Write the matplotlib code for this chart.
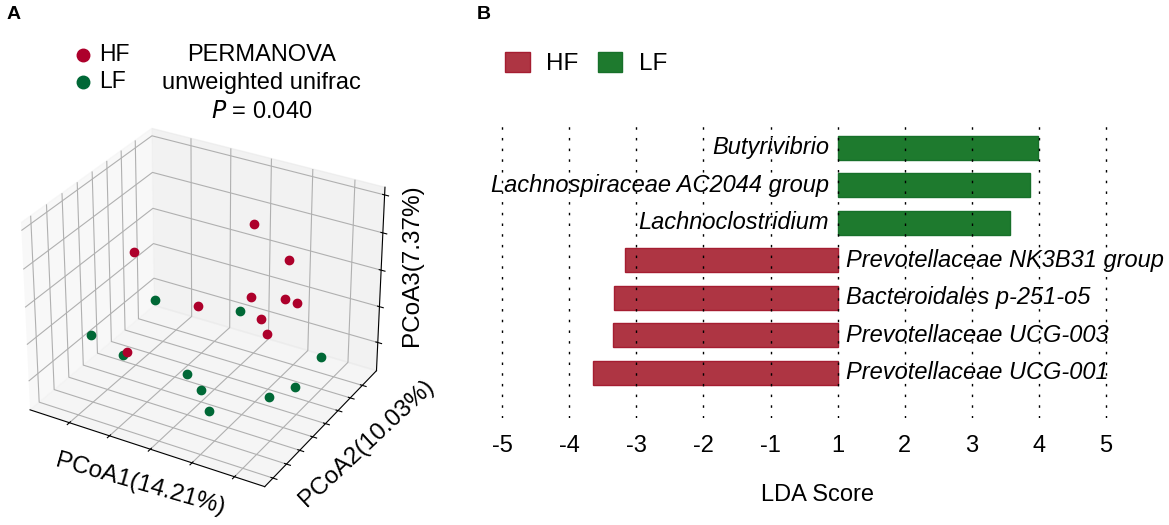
import matplotlib
matplotlib.use("Agg")
import matplotlib.pyplot as plt
import numpy as np

plt.rcParams['font.family'] = ['Liberation Sans', 'DejaVu Sans']

# panel A: PCoA coordinates
hf_pc1 = [0.069, 0.206, -0.259, 0.037, 0.159, 0.213, -0.065, 0.158, 0.146, -0.184]
hf_pc2 = [0.173, -0.004, 0.262, 0.262, 0.129, 0.040, 0.173, -0.048, 0.040, -0.004]
hf_pc3 = [0.166, 0.170, -0.033, -0.064, 0.012, 0.047, -0.093, 0.017, -0.058, -0.201]

lf_pc1 = [-0.221, 0.067, -0.243, -0.178, 0.183, -0.019, 0.031, 0.187, 0.166, 0.080]
lf_pc2 = [0.306, 0.085, -0.092, -0.048, 0.350, -0.048, -0.092, 0.129, -0.004, -0.181]
lf_pc3 = [-0.170, -0.035, -0.145, -0.194, -0.212, -0.192, -0.203, -0.217, -0.205, -0.211]

# panel B: LDA bars (value in axis units, 0 = the "1" line)
taxa = ["Butyrivibrio", "Lachnospiraceae AC2044 group", "Lachnoclostridium",
        "Prevotellaceae NK3B31 group", "Bacteroidales p-251-o5",
        "Prevotellaceae UCG-003", "Prevotellaceae UCG-001"]
lda = [2.99, 2.86, 2.57, -3.17, -3.33, -3.35, -3.65]
groups = ["LF", "LF", "LF", "HF", "HF", "HF", "HF"]
tick_pos = [-5, -4, -3, -2, -1, 0, 1, 2, 3, 4]
tick_lab = ["-5", "-4", "-3", "-2", "-1", "1", "2", "3", "4", "5"]

red_pt = "#ad002b"
green_pt = "#006836"
red_bar = "#ae3543"
red_edge = "#a51d31"
green_bar = "#1e7a2e"
green_edge = "#17702a"

fig = plt.figure(figsize=(11.69, 5.25), dpi=100)

# ---------- A ----------
ax3 = fig.add_axes([-0.0071, 0.037, 0.357, 0.764], projection='3d')
ax3.set_box_aspect((1.217, 1.092, 0.964), zoom=1.019)
ax3.scatter(hf_pc1, hf_pc2, hf_pc3, color=red_pt, s=36, depthshade=False, label="HF")
ax3.scatter(lf_pc1, lf_pc2, lf_pc3, color=green_pt, s=36, depthshade=False, label="LF")
ax3.set_xlim(-0.3, 0.27)
ax3.set_ylim(-0.36, 0.52)
ax3.set_zlim(-0.28, 0.22)
ax3.set_xticks([-0.2, -0.1, 0.0, 0.1, 0.2])
ax3.set_yticks([-0.3, -0.2, -0.1, 0.0, 0.1, 0.2, 0.3, 0.4])
ax3.set_zticks([-0.2, -0.1, 0.0, 0.1, 0.2])
ax3.set_xticklabels([])
ax3.set_yticklabels([])
ax3.set_zticklabels([])

# axis titles placed by hand so they sit like the original
fig.text(140 / 1169, 1 - 485 / 525, "PCoA1(14.21%)", fontsize=17.5, rotation=-16,
         ha="center", va="center", rotation_mode="anchor")
fig.text(367 / 1169, 1 - 443 / 525, "PCoA2(10.03%)", fontsize=17.5, rotation=43,
         ha="center", va="center", rotation_mode="anchor")
fig.text(412 / 1169, 1 - 265 / 525, "PCoA3(7.37%)", fontsize=17.5, rotation=90,
         ha="center", va="center", rotation_mode="anchor")

fig.legend(handles=ax3.collections, labels=["HF", "LF"], loc="upper left",
           bbox_to_anchor=(0.054, 0.935), frameon=False, fontsize=16.5,
           handlelength=0.9, handletextpad=0.25, labelspacing=0.15,
           markerscale=1.5, borderaxespad=0)
fig.text(0.224, 0.895, "PERMANOVA", fontsize=17, ha="center", va="center")
fig.text(0.224, 0.842, "unweighted unifrac", fontsize=17, ha="center", va="center")
fig.text(0.224, 0.787, "$\\it{P}$ = 0.040", fontsize=17, ha="center", va="center")
fig.text(0.006, 0.972, "A", fontsize=14, fontweight="bold", va="center")

# ---------- B ----------
ax = fig.add_axes([0.4008, 0.2038, 0.597, 0.5625])
ypos = np.arange(len(taxa))[::-1]
cols = [green_bar if g == "LF" else red_bar for g in groups]
edges = [green_edge if g == "LF" else red_edge for g in groups]
bars = ax.barh(ypos, lda, height=0.64, color=cols, edgecolor=edges, linewidth=1, zorder=1)
for y, v, name in zip(ypos, lda, taxa):
    if v > 0:
        ax.text(-0.13, y, name, ha="right", va="center", fontsize=17, style="italic")
    else:
        ax.text(0.13, y, name, ha="left", va="center", fontsize=17, style="italic")

ax.set_xlim(-5.5, 4.9)
ax.set_ylim(-1.2, 6.67)
ax.set_xticks(tick_pos)
ax.set_xticklabels(tick_lab, fontsize=17)
ax.set_yticks([])
ax.tick_params(axis="x", length=0, pad=12)
ax.xaxis.grid(True, color="black", linestyle=(0, (1.8, 5.9)), linewidth=1.0)
ax.set_axisbelow(False)
for sp in ax.spines.values():
    sp.set_visible(False)
ax.set_xlabel("LDA Score", fontsize=17, labelpad=20)

hf_patch = bars[3]
lf_patch = bars[0]
ax.legend([hf_patch, lf_patch], ["HF", "LF"], loc="upper left", ncol=2,
          bbox_to_anchor=(0.424, 0.92), bbox_transform=fig.transFigure,
          frameon=False, fontsize=17.5, handlelength=1.0, handleheight=0.92,
          handletextpad=0.68, columnspacing=0.8, borderaxespad=0)
fig.text(0.408, 0.972, "B", fontsize=14, fontweight="bold", va="center")

fig.savefig("out.png", dpi=100)
